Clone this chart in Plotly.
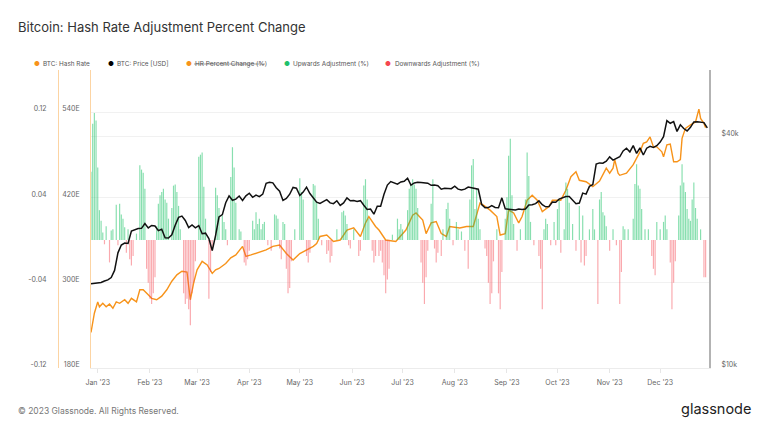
import plotly.graph_objects as go
import pandas as pd

# ---------------- data ----------------
# BTC price [USD], every 2 days from 2022-12-28
price_start = "2022-12-28"
price = [
    16550, 16600,
    16610, 16680, 16830, 16950, 17190, 17940, 19930, 20880, 21140, 21080, 22710, 22920, 23060, 23080, 23740, 23130,
    23480, 23400, 22770, 22960, 21800, 21790, 22200, 23520, 24640, 24830, 24190, 23180, 23560, 23150,
    23470, 22350, 22420, 21700, 20190, 22130, 24700, 25050, 26910, 28040, 27300, 27490, 28000, 27270, 28030,
    28470, 27790, 28170, 27910, 28330, 30220, 30390, 30300, 29430, 28820, 27270, 27590, 28310, 29480, 29340,
    28090, 28680, 29540, 28430, 27670, 26990, 26800, 27170, 27400, 26880, 26750, 27220, 26470, 26870, 27700, 27220,
    27250, 27100, 27240, 26500, 25850, 25900, 25120, 26340, 26340, 28310, 29900, 30540, 30270, 30080, 30470,
    30590, 31150, 29900, 30290, 30410, 30390, 30310, 30250, 29860, 29900, 29790, 29180, 29350, 29310, 29270,
    29700, 29180, 29050, 29180, 29560, 29400, 29300, 29170, 26620, 26100, 26130, 26440, 26160, 26100, 27700, 25940,
    25870, 25830, 25750, 25900, 25840, 25900, 26540, 26570, 26760, 27200, 26580, 26260, 26300, 27020, 26970,
    27500, 27780, 27930, 27940, 27390, 26750, 26860, 28500, 28330, 29670, 29990, 33900, 34150, 34080, 34500,
    35400, 34730, 35000, 35430, 36700, 37300, 36480, 37880, 36150, 37360, 35800, 37300, 37720, 37460, 37860,
    38690, 39970, 44000, 43300, 43720, 41240, 42900, 41950, 41360, 42260, 43660, 43710, 43610, 43470, 42100,
]

# BTC hash rate (EH/s)
hr_dates = [
    "2022-12-28", "2022-12-30", "2023-01-01", "2023-01-02", "2023-01-04", "2023-01-06", "2023-01-08",
    "2023-01-10", "2023-01-12", "2023-01-14", "2023-01-17", "2023-01-19", "2023-01-21", "2023-01-24",
    "2023-01-26", "2023-01-28", "2023-01-31", "2023-02-02", "2023-02-05", "2023-02-08", "2023-02-11",
    "2023-02-14", "2023-02-17", "2023-02-20", "2023-02-23", "2023-02-24", "2023-02-25", "2023-02-27",
    "2023-03-01", "2023-03-04", "2023-03-07", "2023-03-10", "2023-03-12", "2023-03-14", "2023-03-18",
    "2023-03-21", "2023-03-24", "2023-03-28", "2023-03-30", "2023-04-02", "2023-04-05", "2023-04-08",
    "2023-04-11", "2023-04-15", "2023-04-19", "2023-04-23", "2023-04-27", "2023-05-01", "2023-05-05",
    "2023-05-09", "2023-05-11", "2023-05-13", "2023-05-17", "2023-05-21", "2023-05-25", "2023-05-29",
    "2023-06-02", "2023-06-06", "2023-06-09", "2023-06-11", "2023-06-15", "2023-06-17", "2023-06-21",
    "2023-06-27", "2023-07-03", "2023-07-07", "2023-07-09", "2023-07-13", "2023-07-15", "2023-07-18",
    "2023-07-21", "2023-07-24", "2023-07-27", "2023-07-29", "2023-08-04", "2023-08-08", "2023-08-12",
    "2023-08-16", "2023-08-18", "2023-08-22", "2023-08-26", "2023-08-28", "2023-08-31", "2023-09-02",
    "2023-09-05", "2023-09-08", "2023-09-10", "2023-09-13", "2023-09-16", "2023-09-19", "2023-09-22",
    "2023-09-26", "2023-09-28", "2023-10-03", "2023-10-06", "2023-10-09", "2023-10-12", "2023-10-14",
    "2023-10-18", "2023-10-22", "2023-10-26", "2023-10-28", "2023-10-30", "2023-11-01", "2023-11-03",
    "2023-11-04", "2023-11-06", "2023-11-07", "2023-11-11", "2023-11-15", "2023-11-19", "2023-11-21",
    "2023-11-23", "2023-11-25", "2023-11-27", "2023-11-29", "2023-12-02", "2023-12-03", "2023-12-05",
    "2023-12-07", "2023-12-09", "2023-12-11", "2023-12-13", "2023-12-14", "2023-12-16", "2023-12-19",
    "2023-12-22", "2023-12-24", "2023-12-25", "2023-12-27", "2023-12-28",
]
hr_values = [
    230, 257, 273, 266, 271, 266, 270,
    264, 273, 271, 276, 271, 278, 273,
    290, 290, 283, 278, 276, 281, 290,
    302, 311, 316, 315, 297, 276, 300,
    318, 330, 325, 313, 318, 320, 327,
    335, 339, 351, 337, 339, 341, 343,
    346, 351, 353, 341, 332, 341, 346,
    351, 355, 365, 367, 358, 360, 374,
    377, 365, 384, 393, 379, 374, 360,
    358, 374, 395, 398, 388, 369, 384,
    386, 369, 365, 379, 377, 379, 379,
    412, 409, 402, 393, 367, 369, 402,
    398, 384, 393, 416, 423, 416, 400,
    407, 416, 416, 430, 449, 456, 444,
    442, 435, 443, 451, 461, 454, 461,
    473, 454, 451, 454, 466, 484, 496,
    498, 505, 491, 491, 484, 477, 494,
    495, 470, 470, 473, 503, 517, 522,
    526, 544, 531, 524, 518,
]

# Daily hash-rate adjustment (%) from 2022-12-28; >0 upward, <0 downward
adj_start = "2022-12-28"
adj = [
    .064, .109, .119, .112, .068, .028, .018, .007, -.004, .013,
    0, -.021, .009, .01, 0, .033, -.005, .034, .024, .02,
    .012, -.012, .01, -.018, -.024, -.015, 0, .006, 0, .07,
    .066, .063, .048, -.027, -.04, -.055, -.06, -.05, -.035, .013,
    .034, .042, .045, .048, .038, .035, .02, 0, .03, .051,
    .052, .045, .032, .01, 0, -.05, -.06, -.055, -.065, -.08,
    -.05, -.04, -.02, 0, .078, .08, .082, .05, .02, 0,
    -.055, -.03, -.01, 0, .049, .042, .03, 0, .023, .017,
    .01, -.005, 0, .059, .087, .068, .035, 0, .01, .008,
    0, -.021, -.024, -.018, -.01, 0, .018, .01, .026, .015,
    .02, .01, .015, .017, 0, -.005, 0, -.01, 0, .024,
    .023, .02, -.008, -.018, .017, .015, -.027, -.05, -.045, -.02,
    0, .01, 0, 0, .058, .045, .038, 0, -.015, -.021,
    -.012, 0, .0525, .051, .035, .02, 0, -.005, 0, 0,
    -.013, -.01, -.021, -.015, 0, 0, .01, 0, 0, .026,
    .0275, .023, .015, -.005, -.008, 0, .01, 0, 0, -.015,
    -.01, 0, .051, .057, .038, .02, 0, -.01, -.021, -.015,
    0, -.015, -.01, -.021, -.033, -.05, -.037, -.027, 0, .005,
    0, 0, .02, .01, .015, .01, 0, 0, .028, .048,
    .052, .057, .052, .048, .03, 0, -.021, -.04, -.06, -.035,
    -.01, 0, .034, .057, -.008, -.021, -.012, 0, -.015, .01,
    0, .029, .035, .02, 0, -.005, 0, .017, .01, 0,
    .008, 0, -.01, 0, -.027, .038, .07, .076, .029, .048,
    .02, .01, 0, 0, -.008, -.015, -.04, -.06, -.05, -.02,
    0, .01, -.05, -.065, -.03, 0, .02, .04, .079, .095,
    .042, .015, 0, -.01, 0, .01, 0, 0, .038, .082,
    .06, .017, 0, -.005, 0, 0, -.015, -.027, -.065, .01,
    .02, .015, 0, -.005, 0, .017, -.005, .029, .038, -.012,
    0, .01, .054, .048, .035, 0, .015, 0, -.01, 0,
    .032, -.021, .023, -.024, -.015, 0, .01, 0, .029, .01,
    0, -.06, .038, .045, .026, .023, .013, 0, -.01, 0,
    .01, 0, -.005, 0, -.06, -.03, .013, .01, 0, .01,
    0, 0, .02, .0525, .071, .051, .048, .029, 0, .01,
    0, .01, 0, -.015, -.027, -.033, .017, 0, .01, 0,
    .017, .023, .01, 0, -.021, -.065, -.04, -.02, 0, .023,
    .051, .071, .054, .045, .029, .02, .018, .038, .054, .03,
    .02, 0, .01, 0, -.035, -.035, 0,
]

month_ticks = ["2023-%02d-01" % m for m in range(1, 13)]
month_labels = ["Jan '23", "Feb '23", "Mar '23", "Apr '23", "May '23", "Jun '23",
                "Jul '23", "Aug '23", "Sep '23", "Oct '23", "Nov '23", "Dec '23"]

pct_ticks = [-0.12, -0.04, 0.04, 0.12]
pct_labels = ["-0.12", "-0.04", "0.04", "0.12"]
hr_ticks = [180, 300, 420, 540]
hr_labels = ["180E", "300E", "420E", "540E"]
price_ticks = [10000, 40000]
price_labels = ["$10k", "$40k"]

legend_names = ["BTC: Hash Rate", "BTC: Price [USD]", "HR Percent Change (%)",
                "Upwards Adjustment (%)", "Downwards Adjustment (%)"]

# ---------------- styling / geometry ----------------
# page body has an 8px margin: figure is drawn 8px in from the top-left
OFF = 8
W, H = 768 - 2 * OFF, 432 - 2 * OFF


def px(x):
    return (x - OFF) / W


def py(y):
    return (H - (y - OFF)) / H


ORANGE = "#f7931a"
GREEN_BAR = "rgba(38,196,110,0.55)"
RED_BAR = "rgba(245,75,85,0.48)"
FONT = "Inter"
TXT = "#666666"

price_dates = pd.date_range(price_start, periods=len(price), freq="2D")
adj_dates = pd.date_range(adj_start, periods=len(adj), freq="D")
up = [v if v > 0 else None for v in adj]
down = [v if v < 0 else None for v in adj]

fig = go.Figure()
fig.add_trace(go.Bar(x=adj_dates, y=up, marker=dict(color=GREEN_BAR, line_width=0),
                     yaxis="y2", name=legend_names[3], showlegend=False))
fig.add_trace(go.Bar(x=adj_dates, y=down, marker=dict(color=RED_BAR, line_width=0),
                     yaxis="y2", name=legend_names[4], showlegend=False))
fig.add_trace(go.Scatter(x=pd.to_datetime(hr_dates), y=hr_values, mode="lines",
                         line=dict(color=ORANGE, width=1.4), yaxis="y",
                         name=legend_names[0], showlegend=False))
fig.add_trace(go.Scatter(x=price_dates, y=price, mode="lines",
                         line=dict(color="#111111", width=1.5), yaxis="y3",
                         name=legend_names[1], showlegend=False))

dom = [py(368), py(70)]

fig.update_layout(
    width=W, height=H,
    margin=dict(l=0, r=0, t=0, b=0),
    paper_bgcolor="white", plot_bgcolor="white",
    font=dict(family=FONT, size=7, color=TXT),
    barmode="overlay", bargap=0.3,
    showlegend=False,
    xaxis=dict(domain=[px(91), px(709)], type="date", range=["2022-12-28", "2023-12-30"],
               tickvals=month_ticks, ticktext=month_labels,
               ticks="outside", ticklen=4, tickcolor="#e6e6e6",
               showgrid=False, showline=True, linecolor="#ececec", linewidth=1,
               tickfont=dict(size=7, color=TXT), anchor="y", automargin=False, zeroline=False,
               ticklabelstandoff=4),
    yaxis=dict(domain=dom, range=[180, 599.1], tickvals=hr_ticks, ticktext=hr_labels,
               side="left", showline=True, linecolor="rgba(247,147,26,0.4)", linewidth=1,
               showgrid=True, gridcolor="#f1f1f1", zeroline=False, ticks="",
               tickfont=dict(size=7, color=TXT), ticklabelstandoff=9, ticklabelshift=-3,
               automargin=False, anchor="x"),
    yaxis2=dict(overlaying="y", anchor="free", position=px(58), side="left",
                range=[-0.12, 0.1594], tickvals=pct_ticks, ticktext=pct_labels,
                showline=True, linecolor="rgba(247,147,26,0.4)", linewidth=1,
                showgrid=False, zeroline=False, ticks="",
                tickfont=dict(size=7, color=TXT), ticklabelstandoff=10, ticklabelshift=-3,
                automargin=False),
    yaxis3=dict(overlaying="y", anchor="x", side="right", type="log",
                range=[4, 4.775], tickvals=price_ticks, ticktext=price_labels,
                showline=True, linecolor="#b3b3b3", linewidth=2,
                showgrid=True, gridcolor="#f1f1f1", zeroline=False, ticks="",
                tickfont=dict(size=7, color=TXT), ticklabelstandoff=9, ticklabelshift=-3,
                automargin=False),
)

# Title
fig.add_annotation(text="Bitcoin: Hash Rate Adjustment Percent Change", xref="paper", yref="paper",
                   x=px(16), y=py(27), xanchor="left", yanchor="middle", showarrow=False,
                   font=dict(family=FONT, size=13, color="#333333"))

# Manual legend: (dot x, text x, colour, name)
leg_y = py(64)
leg_items = [
    (36.7, 41.0, ORANGE, legend_names[0]),
    (110.7, 115.0, "#000000", legend_names[1]),
    (189.0, 193.3, ORANGE, legend_names[2]),
    (286.7, 291.0, "#1fc16b", legend_names[3]),
    (388.3, 393.3, "#f5474f", legend_names[4]),
]
for dx, tx, col, name in leg_items:
    fig.add_annotation(text="●", xref="paper", yref="paper", x=px(dx), y=leg_y,
                       xanchor="center", yanchor="middle", showarrow=False,
                       font=dict(family=FONT, size=6.5, color=col))
    fig.add_annotation(text=name, xref="paper", yref="paper", x=px(tx), y=leg_y,
                       xanchor="left", yanchor="middle", showarrow=False,
                       font=dict(family=FONT, size=6.4, color="#555555"))
# strike-through of the hidden series
fig.add_shape(type="line", xref="paper", yref="paper", x0=px(194), x1=px(265),
              y0=leg_y, y1=leg_y, line=dict(color="#888888", width=0.8))

# Footer
fig.add_annotation(text="© 2023 Glassnode. All Rights Reserved.", xref="paper", yref="paper",
                   x=px(16), y=py(411), xanchor="left", yanchor="middle", showarrow=False,
                   font=dict(family=FONT, size=8.5, color="#777777"))
fig.add_annotation(text="glassnode", xref="paper", yref="paper",
                   x=px(753), y=py(409), xanchor="right", yanchor="middle", showarrow=False,
                   font=dict(family=FONT, size=14.5, color="#222222"))

fig.write_html("out.html")
